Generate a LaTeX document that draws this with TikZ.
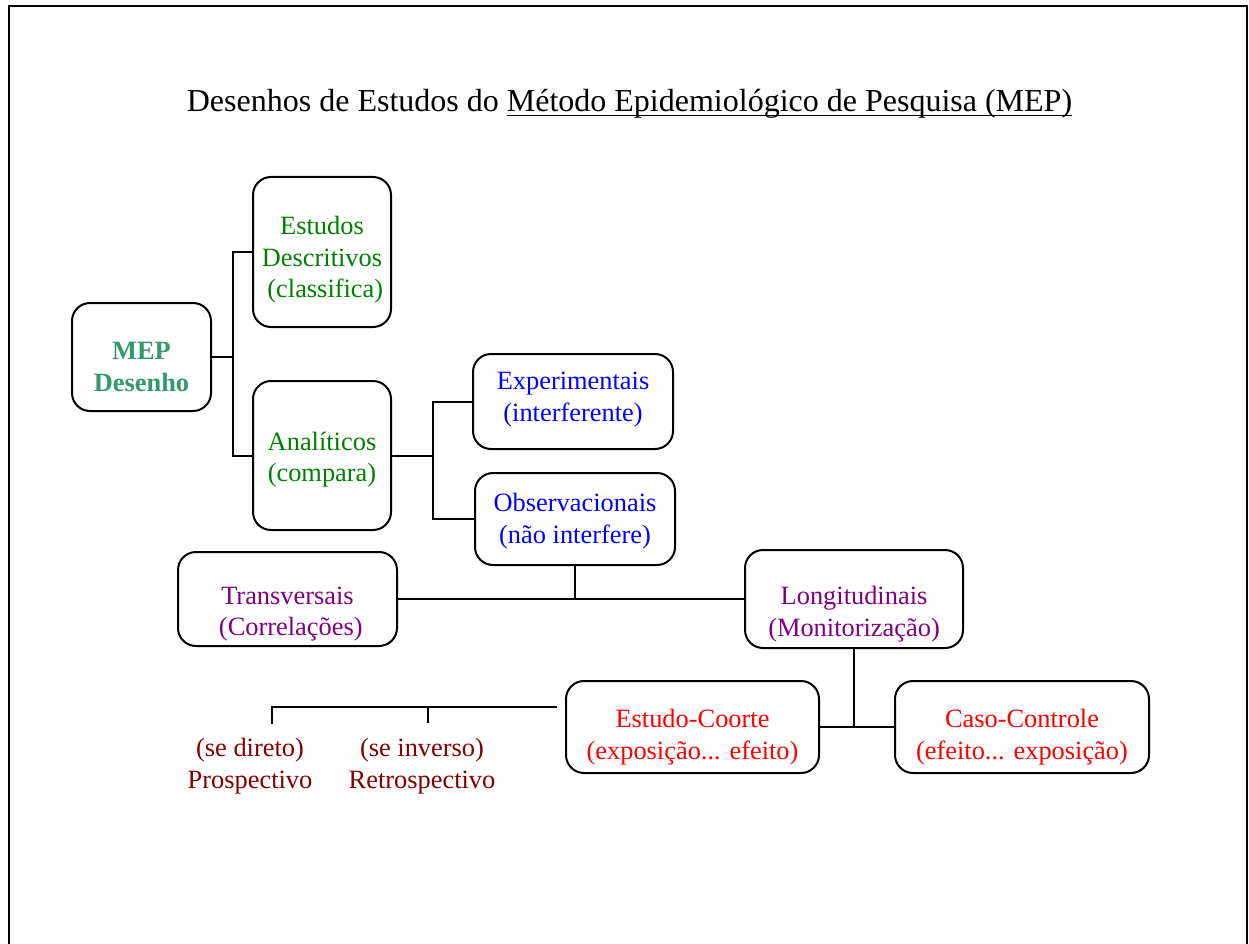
\documentclass[tikz,border=0pt]{standalone}
\usepackage{fontspec}
\setmainfont{Liberation Serif}
\definecolor{mepgreen}{RGB}{51,153,102}
\definecolor{dgreen}{RGB}{0,128,0}
\definecolor{dblue}{RGB}{0,0,255}
\definecolor{dpurple}{RGB}{128,0,128}
\definecolor{dred}{RGB}{255,0,0}
\definecolor{maroon}{RGB}{128,0,0}
% underline drawn close to the baseline, crossing descenders
\newcommand\wordul[1]{\setbox0\hbox{#1}\rlap{\rule[-4.5pt]{\wd0}{1.7pt}}\box0}
\begin{document}
\begin{tikzpicture}[x=1pt,y=-1pt,
  every node/.style={font=\fontsize{26.4}{31.5}\selectfont, align=center},
  box/.style={draw, line width=2pt, rounded corners=18pt, inner sep=0pt},
  txt/.style={inner sep=0pt},
  link/.style={line width=2pt}]
\useasboundingbox (0,0) rectangle (1249,944);
% page frame (open at the bottom)
\draw[line width=2.2pt] (9,944) -- (9,6) -- (1247,6) -- (1247,944);

% title
\node[txt, anchor=base, font=\fontsize{32}{36}\selectfont] (title) at (629.5,112)
  {Desenhos de Estudos do \wordul{Método Epidemiológico de Pesquisa (MEP)}};

% boxes
\node[box, minimum width=139, minimum height=108] (mep) at (141.5,357) {};
\node[box, minimum width=138, minimum height=150] (est) at (322,252) {};
\node[box, minimum width=138, minimum height=149] (ana) at (322,455.5) {};
\node[box, minimum width=200, minimum height=95] (exp) at (573,401.5) {};
\node[box, minimum width=200, minimum height=92] (obs) at (575,519) {};
\node[box, minimum width=219, minimum height=94] (tra) at (287.5,599) {};
\node[box, minimum width=218, minimum height=98] (lon) at (854,599) {};
\node[box, minimum width=253, minimum height=92] (coo) at (692.5,727) {};
\node[box, minimum width=254, minimum height=92] (cas) at (1022,727) {};

% box texts
\node[txt, text=mepgreen, font=\fontsize{26.4}{31.5}\selectfont\bfseries] (mep-t) at ([yshift=-10pt]mep.center) {MEP\\Desenho};
\node[txt, text=dgreen] (est-t) at ([yshift=-8pt]est.center) {Estudos\\Descritivos\\\ (classifica)};
\node[txt, text=dgreen] (ana-t) at ([yshift=-4pt]ana.center) {Analíticos\\(compara)};
\node[txt, text=dblue] (exp-t) at ([yshift=2pt]exp.center) {Experimentais\\(interferente)};
\node[txt, text=dblue] (obs-t) at ([yshift=-2pt]obs.center) {Observacionais\\(não interfere)};
\node[txt, text=dpurple] (tra-t) at ([yshift=-15pt]tra.center) {Transversais\\\ (Correlações)};
\node[txt, text=dpurple] (lon-t) at ([yshift=-15pt]lon.center) {Longitudinais\\(Monitorização)};
\node[txt, text=dred] (coo-t) at ([yshift=-10pt]coo.center) {Estudo-Coorte\\(exposição... efeito)};
\node[txt, text=dred] (cas-t) at ([yshift=-10pt]cas.center) {Caso-Controle\\(efeito... exposição)};
\node[txt, text=maroon] (pro) at (250,766) {(se direto)\\Prospectivo};
\node[txt, text=maroon] (ret) at (422,766) {(se inverso)\\Retrospectivo};

% connectors
\coordinate (j1) at ([xshift=21pt]mep.east);
\draw[link] (mep.east) -- (j1);
\draw[link] (est.west) -| (j1) |- (ana.west);
\coordinate (j2) at ([xshift=41pt]ana.east);
\draw[link] (ana.east) -- (j2);
\draw[link] (exp.west) -| (j2) |- (obs.west);
\draw[link] (tra.east) -- (lon.west);
\draw[link] (obs.south) -- (obs.south |- tra.east);
\draw[link] (coo.east) -- (cas.west);
\draw[link] (lon.south) -- (lon.south |- coo.east);
\coordinate (cl) at ([xshift=-8pt,yshift=20pt]coo.west);
\coordinate (tp) at ([xshift=22pt,yshift=14pt]pro.north);
\coordinate (tr) at ([xshift=6pt,yshift=15pt]ret.north);
\draw[link] (cl) -- (cl -| tp) -- (tp);
\draw[link] (cl -| tr) -- (tr);
\end{tikzpicture}
\end{document}
